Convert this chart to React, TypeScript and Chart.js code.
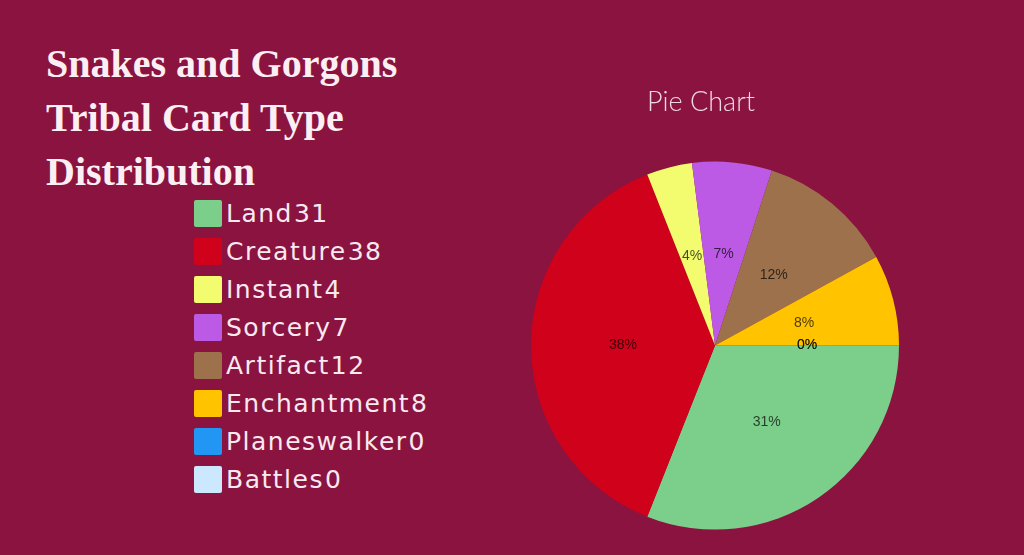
import React, { useEffect, useRef } from "react";
import { Chart, registerables } from "chart.js";

Chart.register(...registerables);

const titleLines = ["Snakes and Gorgons", "Tribal Card Type", "Distribution"];
const categories = ["Land", "Creature", "Instant", "Sorcery", "Artifact", "Enchantment", "Planeswalker", "Battles"];
const counts = [31, 38, 4, 7, 12, 8, 0, 0];
const colors = ["#7BCF8B", "#D0011B", "#F2FC6E", "#BD5AE5", "#9C714C", "#FFC300", "#2196F3", "#CCE8FF"];
const chartTitle = "Pie Chart";

const BG = "#8B1340";

const percentLabels = {
  id: "percentLabels",
  afterDatasetsDraw(chart: any) {
    const ctx = chart.ctx;
    const meta = chart.getDatasetMeta(0);
    const data = chart.data.datasets[0].data as number[];
    const total = data.reduce((a, b) => a + b, 0);
    ctx.save();
    ctx.font = '14px "Liberation Sans", Arial, sans-serif';
    ctx.textAlign = "center";
    ctx.textBaseline = "middle";
    ctx.fillStyle = "rgba(0,0,0,0.7)";
    meta.data.forEach((arc: any, i: number) => {
      const p = arc.getCenterPoint();
      const pct = Math.round((data[i] / total) * 100);
      ctx.fillText(pct + "%", p.x, p.y);
    });
    ctx.restore();
  },
};

// Title centred over the whole canvas (not over the padded chart area)
const canvasTitle = {
  id: "canvasTitle",
  afterDraw(chart: any) {
    const ctx = chart.ctx;
    ctx.save();
    ctx.font = '300 27px Lato, sans-serif';
    ctx.textAlign = "center";
    ctx.textBaseline = "middle";
    ctx.fillStyle = "#F0D8E3";
    ctx.fillText(chartTitle, chart.width / 2, 26);
    ctx.restore();
  },
};

function PieChart() {
  const ref = useRef<HTMLCanvasElement | null>(null);
  useEffect(() => {
    if (!ref.current) return;
    const chart = new Chart(ref.current, {
      type: "pie",
      data: {
        labels: categories,
        datasets: [
          {
            data: counts,
            backgroundColor: colors,
            borderWidth: 0,
          },
        ],
      },
      options: {
        animation: false,
        responsive: true,
        maintainAspectRatio: false,
        rotation: 90,
        layout: { padding: { left: 30, right: 2, top: 85.2, bottom: 0 } },
        plugins: {
          legend: { display: false },
          tooltip: { enabled: false },
          title: { display: false },
        },
      },
      plugins: [percentLabels, canvasTitle],
    });
    return () => chart.destroy();
  }, []);
  return (
    <div style={{ position: "absolute", left: 501, top: 76, width: 400, height: 454 }}>
      <canvas ref={ref} />
    </div>
  );
}

export default function App() {
  return (
    <div style={{ position: "fixed", inset: 0, background: BG, overflow: "hidden" }}>
      <div
        style={{
          position: "absolute",
          left: 46,
          top: 37,
          fontFamily: '"Liberation Serif", "Times New Roman", serif',
          fontWeight: 700,
          fontSize: 40,
          lineHeight: "54px",
          color: "#FBEFF4",
          whiteSpace: "nowrap",
        }}
      >
        {titleLines.map((l) => (
          <div key={l}>{l}</div>
        ))}
      </div>
      <div style={{ position: "absolute", left: 194, top: 194 }}>
        {categories.map((c, i) => (
          <div key={c} style={{ display: "flex", alignItems: "center", height: 38 }}>
            <div style={{ width: 28, height: 27, background: colors[i], borderRadius: 2, marginRight: 4 }} />
            <span
              style={{
                fontFamily: '"DejaVu Sans", sans-serif',
                fontSize: 25,
                color: "#F8E9F0",
                letterSpacing: 1.5,
                whiteSpace: "nowrap",
              }}
            >
              {c}
              <span style={{ marginLeft: 1 }}>{counts[i]}</span>
            </span>
          </div>
        ))}
      </div>
      <PieChart />
    </div>
  );
}
